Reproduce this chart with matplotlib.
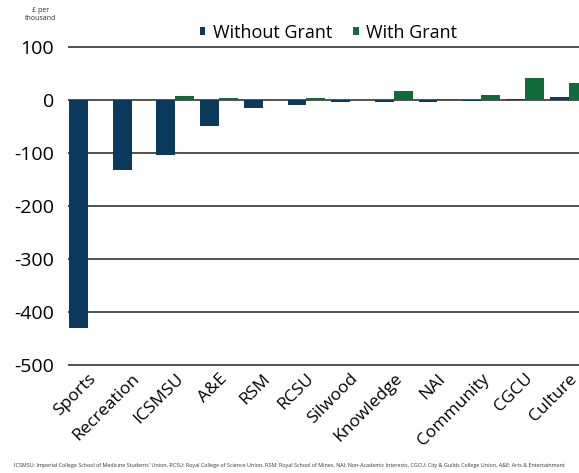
import matplotlib.pyplot as plt
import numpy as np

plt.rcParams['font.family'] = ['Open Sans', 'DejaVu Sans']
plt.rcParams['axes.unicode_minus'] = False

categories = ['Sports', 'Recreation', 'ICSMSU', 'A&E', 'RSM', 'RCSU', 'Silwood',
              'Knowledge', 'NAI', 'Community', 'CGCU', 'Culture']
without_grant = [-430, -132, -103, -49, -15, -9, -4, -3, -3, -1, 3, 6]
with_grant = [0.5, 1, 7, 4, 1, 4, 1, 18, 3, 10, 42, 33]

navy = '#0b3a5d'
green = '#0f6b3a'

fig = plt.figure(figsize=(5.79, 4.73), dpi=100)
ax = fig.add_axes([0.117, 0.222, 0.883, 0.685])

x = np.arange(len(categories))
w = 0.43
ax.bar(x - w / 2, without_grant, w, color=navy, label='Without Grant', zorder=3)
ax.bar(x + w / 2, with_grant, w, color=green, label='With Grant', zorder=3)

ax.set_ylim(-505, 106)
ax.set_xlim(-0.46, 11.24)
ax.set_yticks(range(-500, 101, 100))
ax.grid(axis='y', color='#222222', linewidth=1.1, zorder=0)
for s in ax.spines.values():
    s.set_visible(False)
ax.tick_params(axis='y', length=0, labelsize=14, pad=10)
ax.tick_params(axis='x', length=0, labelsize=12.5, pad=2)
ax.set_xticks(x)
ax.set_xticklabels(categories, rotation=45, ha='right', rotation_mode='anchor')

leg = ax.legend(loc='lower center', bbox_to_anchor=(0.51, 0.985), ncol=2, frameon=False,
                fontsize=13, handlelength=0.3, handleheight=0.3, handletextpad=0.4,
                columnspacing=1.2, borderaxespad=0)

fig.text(0.07, 0.985, '£ per\nthousand', fontsize=5, ha='center', va='top', color='#333333')

fig.text(0.5, 0.01,
         "ICSMSU: Imperial College School of Medicine Students' Union, RCSU: Royal College of Science Union, "
         "RSM: Royal School of Mines, NAI: Non-Academic Interests, CGCU: City & Guilds College Union, A&E: Arts & Entertainment",
         fontsize=3.9, ha='center', va='bottom', color='#333333')

fig.savefig('out.png', dpi=100)
